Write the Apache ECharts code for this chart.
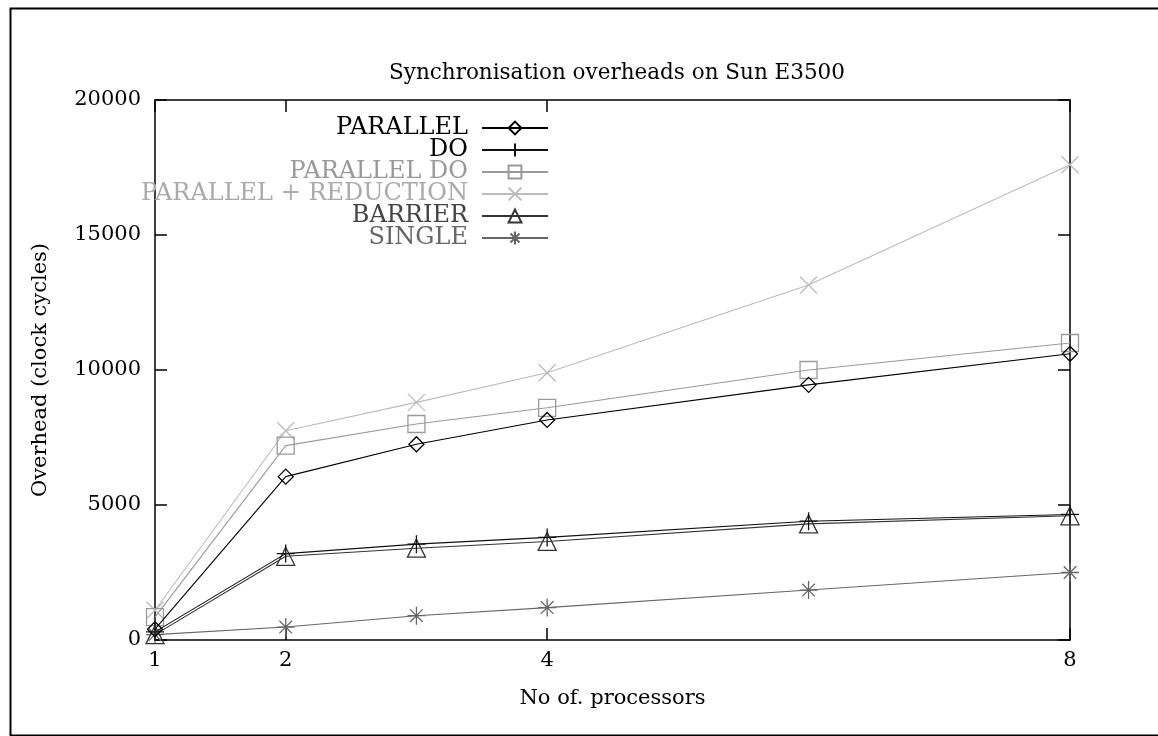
<!DOCTYPE html>
<html>
<head>
<meta charset="utf-8">
<script src="https://cdn.jsdelivr.net/npm/echarts@6/dist/echarts.min.js"></script>
<style>
html,body{margin:0;padding:0;background:#fff;}
#chart{width:1158px;height:736px;}
</style>
</head>
<body>
<div id="chart"></div>
<script>
const processors = [1, 2, 3, 4, 6, 8];
const xTickValues = [1, 2, 4, 8];
const seriesNames = ['PARALLEL', 'DO', 'PARALLEL DO', 'PARALLEL + REDUCTION', 'BARRIER', 'SINGLE'];
const parallelVals = [400, 6050, 7250, 8150, 9450, 10600];
const doVals = [300, 3200, 3550, 3800, 4400, 4650];
const parallelDoVals = [850, 7200, 8000, 8600, 10000, 11000];
const reductionVals = [1100, 7750, 8800, 9900, 13150, 17600];
const barrierVals = [200, 3100, 3400, 3650, 4300, 4600];
const singleVals = [200, 480, 900, 1200, 1850, 2500];

const FONT = '"DejaVu Serif", "Liberation Serif", serif';
const styles = [
  {color: '#000', text: '#000', symbol: 'diamond', size: 15},
  {color: '#111', text: '#000', symbol: 'path://M10,0 L10,20 M0,10 L20,10', size: 18},
  {color: '#999', text: '#999', symbol: 'rect', size: 17},
  {color: '#bbb', text: '#aaa', symbol: 'path://M0,0 L20,20 M20,0 L0,20', size: 17},
  {color: '#333', text: '#444', symbol: 'triangle', size: 18},
  {color: '#666', text: '#666', symbol: 'path://M10,0 L10,20 M0,10 L20,10 M3,3 L17,17 M17,3 L3,17', size: 18}
];
const values = [parallelVals, doVals, parallelDoVals, reductionVals, barrierVals, singleVals];

const series = seriesNames.map((name, i) => ({
  name: name,
  type: 'line',
  xAxisIndex: 0, yAxisIndex: 0,
  data: processors.map((p, j) => [p, values[i][j]]),
  symbol: styles[i].symbol,
  symbolSize: styles[i].size,
  symbolKeepAspect: true,
  showAllSymbol: true,
  lineStyle: {color: styles[i].color, width: 1.1},
  itemStyle: {color: 'rgba(255,255,255,0)', borderColor: styles[i].color, borderWidth: 1.3},
  emphasis: {disabled: true},
  animation: false,
  z: 10 - i
}));

const tickStyle = () => ({color: '#000', width: 1.5});

const chart = echarts.init(document.getElementById('chart'));
chart.setOption({
  backgroundColor: '#fff',
  animation: false,
  title: {
    text: 'Synchronisation overheads on Sun E3500',
    left: 612, top: 57, textAlign: 'center',
    textStyle: {fontFamily: FONT, fontSize: 21.5, fontWeight: 'normal', color: '#000'}
  },
  graphic: [{
    type: 'rect', left: 8, top: 6, silent: true,
    shape: {width: 1200, height: 727},
    style: {fill: 'none', stroke: '#000', lineWidth: 2}
  }],
  legend: {
    orient: 'vertical',
    left: 128, top: 111,
    align: 'right',
    itemWidth: 66, itemHeight: 16, itemGap: -2,
    selectedMode: false,
    data: seriesNames.map((n, i) => ({name: n, textStyle: {color: styles[i].text}})),
    textStyle: {fontFamily: FONT, fontSize: 24, width: 335, align: 'right', lineHeight: 22, padding: [0, 9, 0, 0]}
  },
  grid: {left: 155, right: 88, top: 100, bottom: 96},
  xAxis: [{
    type: 'value', min: 1, max: 8, interval: 1, position: 'bottom',
    name: 'No of. processors', nameLocation: 'middle', nameGap: 48,
    nameTextStyle: {fontFamily: FONT, fontSize: 21, color: '#000'},
    axisLine: {onZero: false, lineStyle: tickStyle()},
    axisTick: {show: true, inside: true, length: 12, customValues: xTickValues.slice(), lineStyle: tickStyle()},
    axisLabel: {show: true, customValues: xTickValues.slice(), fontFamily: FONT, fontSize: 21, color: '#000', margin: 10},
    splitLine: {show: false}
  }, {
    type: 'value', min: 1, max: 8, interval: 1, position: 'top',
    axisLine: {onZero: false, lineStyle: tickStyle()},
    axisTick: {show: true, inside: true, length: 12, customValues: xTickValues.slice(), lineStyle: tickStyle()},
    axisLabel: {show: true, customValues: xTickValues.slice(), color: 'rgba(0,0,0,0)'},
    splitLine: {show: false}
  }],
  yAxis: [{
    type: 'value', min: 0, max: 20000, interval: 5000,
    name: 'Overhead (clock cycles)', nameLocation: 'middle', nameGap: 104,
    nameTextStyle: {fontFamily: FONT, fontSize: 21, color: '#000'},
    axisLine: {show: true, onZero: false, lineStyle: tickStyle()},
    axisTick: {show: true, inside: true, length: 12, lineStyle: tickStyle()},
    axisLabel: {fontFamily: FONT, fontSize: 21, color: '#000', margin: 14, formatter: v => String(v)},
    splitLine: {show: false}
  }, {
    type: 'value', min: 0, max: 20000, interval: 5000, position: 'right',
    axisLine: {show: true, onZero: false, lineStyle: tickStyle()},
    axisTick: {show: true, inside: true, length: 12, lineStyle: tickStyle()},
    axisLabel: {show: false},
    splitLine: {show: false}
  }],
  series: series
});
</script>
</body>
</html>
